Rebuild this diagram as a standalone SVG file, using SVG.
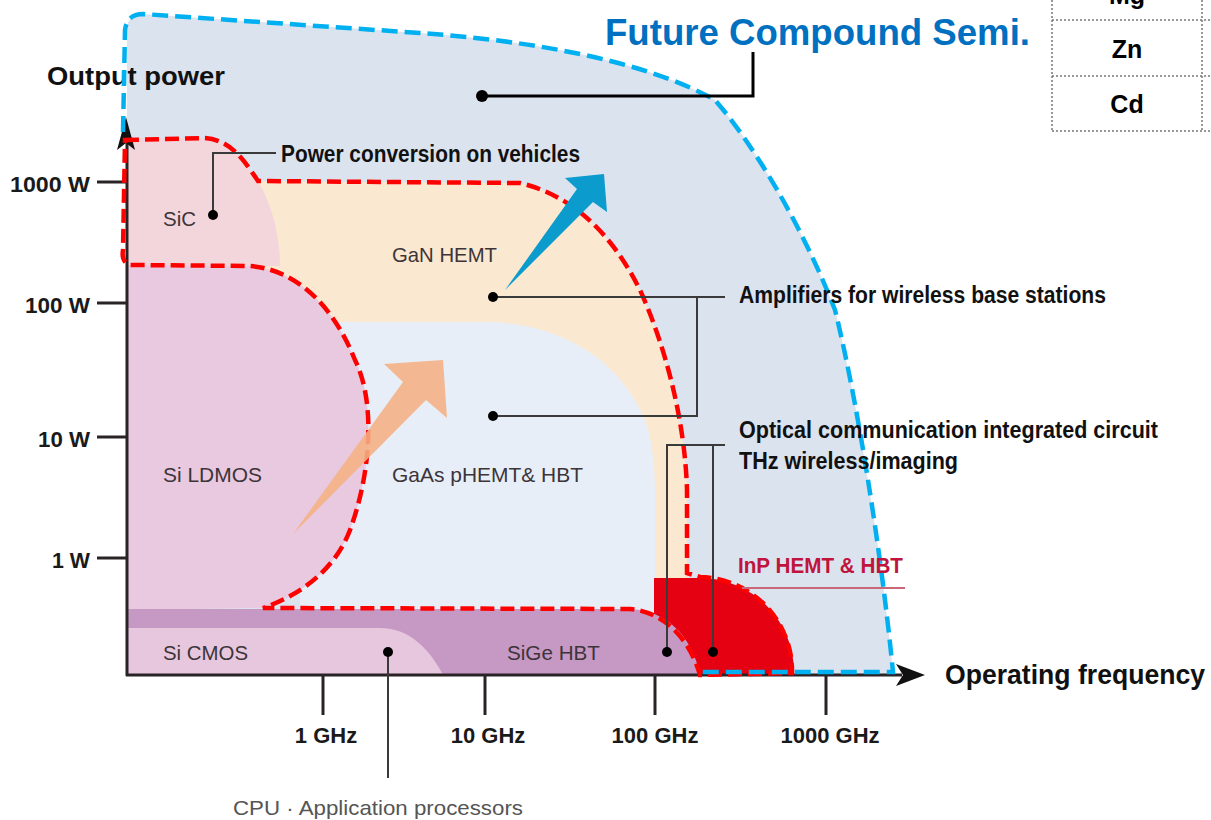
<svg xmlns="http://www.w3.org/2000/svg" width="1211" height="820" viewBox="0 0 1211 820">
<defs>
<style>
.t{font-family:"Liberation Sans",Arial,sans-serif}
.b{font-weight:bold}
.ax{font-family:"Liberation Sans",Arial,sans-serif;font-weight:bold;font-size:22px;fill:#1a1a1a}
.rg{font-family:"Liberation Sans",Arial,sans-serif;font-size:21px;fill:#3d3438}
.lab{font-family:"Liberation Sans",Arial,sans-serif;font-weight:bold;font-size:23px;fill:#111}
.lead{stroke:#3a3a3a;stroke-width:2;fill:none}
.tick{stroke:#2a2326;stroke-width:3}
.rd{fill:none;stroke:#ff0000;stroke-width:4.5;stroke-dasharray:14 6}
.bd{fill:none;stroke:#00b0f0;stroke-width:4.5;stroke-dasharray:16 7}
.cell{stroke:#777;stroke-width:1.5;stroke-dasharray:2 2;fill:none}
</style>
</defs>

<g id="table">
<line class="cell" x1="1052" y1="0" x2="1052" y2="131"/>
<line class="cell" x1="1202" y1="0" x2="1202" y2="131"/>
<line class="cell" x1="1052" y1="20" x2="1211" y2="20"/>
<line class="cell" x1="1052" y1="76" x2="1211" y2="76"/>
<line class="cell" x1="1052" y1="131" x2="1211" y2="131"/>
<text class="t b" x="1127" y="4" font-size="25" text-anchor="middle">Mg</text>
<text class="t b" x="1127" y="58" font-size="25" text-anchor="middle">Zn</text>
<text class="t b" x="1127" y="113" font-size="25" text-anchor="middle">Cd</text>
</g>

<g id="future-region">
<path d="M127,675 L127,30 Q127,14 143,14 L420,33 C520,40 640,58 715,100 C750,140 800,220 835,310 C855,390 880,540 893,672 L895,675 Z" fill="#dbe3ef"/>
</g>

<g id="gan-region">
<path d="M250,181 L520,183 C570,195 610,230 640,290 C665,345 685,420 687,490 L687,580 L250,580 Z" fill="#fbe8d0"/>
</g>
<g id="gaas-region">
<path d="M300,322 L485,322 C560,322 620,360 645,420 C655,450 655,480 655,500 L655,612 L300,612 Z" fill="#e8eef8"/>
</g>
<g id="sic-region">
<path d="M127,138 L205,138 C232,140 245,162 258,181 C272,205 280,235 280,266 L127,266 Z" fill="#f3d6dc"/>
</g>
<g id="ldmos-region">
<path d="M127,265 L250,266 C300,270 335,310 355,360 C375,400 372,470 350,530 C335,570 300,595 263,608 L127,610 Z" fill="#e8c9df"/>
</g>
<g id="inp-region">
<path d="M654,578 L700,578 A94,94 0 0 1 794,672 L794,675 L654,675 Z" fill="#e50012"/>
</g>
<g id="sige-region">
<path d="M127,609 L630,609 C665,610 692,635 700,675 L127,675 Z" fill="#c698c4"/>
</g>
<g id="sicmos-region">
<path d="M127,628 L380,628 C410,628 430,650 443,675 L127,675 Z" fill="#e7c7de"/>
</g>

<g id="axes">
<line x1="127" y1="676" x2="127" y2="140" stroke="#2a2326" stroke-width="3"/>
<polygon points="126,117 117,150 126,143 135,150" fill="#111"/>
<line x1="126" y1="675" x2="902" y2="675" stroke="#2a2326" stroke-width="3"/>
<polygon points="925,675 896,664 903,675 896,686" fill="#111"/>
<line class="tick" x1="97" y1="182" x2="127" y2="182"/>
<line class="tick" x1="97" y1="303" x2="127" y2="303"/>
<line class="tick" x1="97" y1="437" x2="127" y2="437"/>
<line class="tick" x1="97" y1="558" x2="127" y2="558"/>
<line class="tick" x1="323" y1="675" x2="323" y2="715"/>
<line class="tick" x1="485" y1="675" x2="485" y2="715"/>
<line class="tick" x1="655" y1="675" x2="655" y2="715"/>
<line class="tick" x1="826" y1="675" x2="826" y2="715"/>
<text class="ax" x="90" y="192" text-anchor="end" textLength="80" lengthAdjust="spacingAndGlyphs">1000 W</text>
<text class="ax" x="90" y="313" text-anchor="end" textLength="65" lengthAdjust="spacingAndGlyphs">100 W</text>
<text class="ax" x="90" y="447" text-anchor="end" textLength="52" lengthAdjust="spacingAndGlyphs">10 W</text>
<text class="ax" x="90" y="568" text-anchor="end" textLength="38" lengthAdjust="spacingAndGlyphs">1 W</text>
<text class="ax" x="326" y="743" text-anchor="middle">1 GHz</text>
<text class="ax" x="488" y="743" text-anchor="middle">10 GHz</text>
<text class="ax" x="655" y="743" text-anchor="middle">100 GHz</text>
<text class="ax" x="830" y="743" text-anchor="middle">1000 GHz</text>
<text class="t b" x="47" y="85" font-size="26" fill="#111" textLength="178" lengthAdjust="spacingAndGlyphs">Output power</text>
<text class="t b" x="945" y="684" font-size="27" fill="#111" textLength="260" lengthAdjust="spacingAndGlyphs">Operating frequency</text>
</g>

<g id="connectors">
<path class="rd" d="M125,140 L205,138 C232,140 245,162 258,181 L520,183 C570,195 610,230 640,290 C665,345 685,420 687,490 L687,573 L700,577 A94,94 0 0 1 792,673 L700,675 C690,640 665,612 630,609 L263,608 C300,595 335,570 350,530 C372,470 375,400 355,360 C335,310 300,270 250,266 L130,265 Q121,262 123,250 Z"/>
<path class="bd" d="M123,132 L125,30 Q127,14 143,14 L420,33 C520,40 640,58 715,100 C750,140 800,220 835,310 C855,390 880,540 893,672 L700,672"/>
<polygon points="293,534 403,382 384,364 443,360 447,418 426,400" fill="#f4b183" fill-opacity="0.88"/>
<polygon points="505,290 577,189 565,178 604,174 607,212 593,202" fill="#0b9bcd"/>
<polyline points="482,96 753,96 753,52" fill="none" stroke="#000" stroke-width="3"/>
<polyline class="lead" points="213,215 213,153 276,153"/>
<polyline class="lead" points="493,297 725,297"/>
<polyline class="lead" points="493,416 697,416 697,297"/>
<polyline class="lead" points="667,652 667,445 725,445"/>
<polyline class="lead" points="713,652 713,445"/>
<polyline class="lead" points="388,652 388,778"/>
<line x1="742" y1="588" x2="905" y2="588" stroke="#c86878" stroke-width="2"/>
</g>

<g id="dots" fill="#000">
<circle cx="482" cy="96" r="6"/>
<circle cx="213" cy="215" r="5"/>
<circle cx="493" cy="297" r="5"/>
<circle cx="493" cy="416" r="5"/>
<circle cx="388" cy="652" r="5"/>
<circle cx="667" cy="652" r="5"/>
<circle cx="713" cy="652" r="5"/>
</g>

<g id="future-label">
<text class="t b" x="605" y="45" font-size="36" fill="#0070c0" textLength="425" lengthAdjust="spacingAndGlyphs">Future Compound Semi.</text>
</g>
<g id="annotations">
<text class="lab" x="281" y="162" textLength="299" lengthAdjust="spacingAndGlyphs">Power conversion on vehicles</text>
<text class="lab" x="739" y="303" textLength="367" lengthAdjust="spacingAndGlyphs">Amplifiers for wireless base stations</text>
<text class="lab" x="739" y="438" textLength="419" lengthAdjust="spacingAndGlyphs">Optical communication integrated circuit</text>
<text class="lab" x="739" y="469" textLength="219" lengthAdjust="spacingAndGlyphs">THz wireless/imaging</text>
<text class="t b" x="738" y="573" font-size="22" fill="#c0143c" textLength="165" lengthAdjust="spacingAndGlyphs">InP HEMT &amp; HBT</text>
<text class="t" x="233" y="815" font-size="21" fill="#555" textLength="290" lengthAdjust="spacingAndGlyphs">CPU · Application processors</text>
</g>
<g id="region-labels">
<text class="rg" x="163" y="226" textLength="33" lengthAdjust="spacingAndGlyphs">SiC</text>
<text class="rg" x="392" y="262" textLength="105" lengthAdjust="spacingAndGlyphs">GaN HEMT</text>
<text class="rg" x="163" y="482" textLength="99" lengthAdjust="spacingAndGlyphs">Si LDMOS</text>
<text class="rg" x="392" y="482" textLength="191" lengthAdjust="spacingAndGlyphs">GaAs pHEMT&amp; HBT</text>
<text class="rg" x="163" y="660" textLength="85" lengthAdjust="spacingAndGlyphs">Si CMOS</text>
<text class="rg" x="507" y="660" textLength="93" lengthAdjust="spacingAndGlyphs">SiGe HBT</text>
</g>
</svg>
